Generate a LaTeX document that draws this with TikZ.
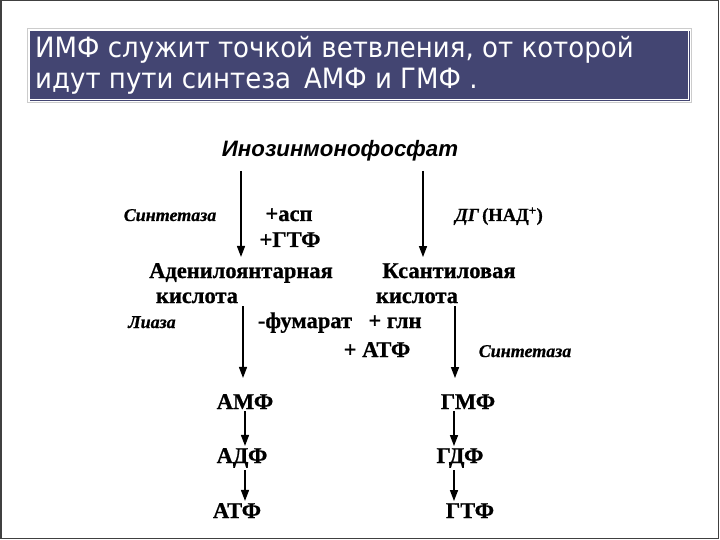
\documentclass[tikz,border=0pt]{standalone}
\usepackage{fontspec}
\setmainfont{Liberation Serif}[BoldFeatures={FakeBold=0.8},BoldItalicFeatures={FakeBold=0.8}]
\newfontfamily\titlefont{DejaVu Sans}[FakeStretch=0.93]
\newfontfamily\arialfont{Liberation Sans}
\usetikzlibrary{arrows.meta}
\definecolor{titleblue}{HTML}{434572}
\definecolor{framegray}{HTML}{404040}
\begin{document}
\begin{tikzpicture}[x=1pt,y=-1pt,
  lbl/.style={inner sep=0pt, anchor=base, font=\fontsize{22.5}{24}\selectfont\bfseries},
  enz/.style={inner sep=0pt, anchor=base, font=\fontsize{18}{20}\selectfont\bfseries\itshape},
  ttl/.style={inner sep=0pt, anchor=base west, text=white, font=\titlefont\fontsize{28}{30}\selectfont},
  arr/.style={line width=1.4pt, -{Triangle[length=11pt,width=8pt]}},
 ]
\useasboundingbox (0,0) rectangle (720,540);
\fill[white] (0,0) rectangle (720,540);
\draw[line width=1.5pt, framegray] (0.75,0.75) rectangle (718.5,538.5);
% title box
\draw[gray!40, line width=0.6pt] (27.5,28.5) rectangle (691.5,102.5);
\fill[titleblue] (30,31) rectangle (688,99.5);
\draw[titleblue, line width=1pt] (689.5,31) -- (689.5,101) -- (30,101);
\node[ttl] (t1) at (35,58) {ИМФ служит точкой ветвления, от которой};
\node[ttl] (t2) at (35,89) {идут пути синтеза\, АМФ и ГМФ .};
% columns
\coordinate (cA1) at (241,0);
\coordinate (cA2) at (243,0);
\coordinate (cA3) at (245,0);
\coordinate (cG1) at (423,0);
\coordinate (cG2) at (455,0);
\coordinate (cG3) at (454,0);
% nodes
\node[inner sep=0pt, anchor=base, font=\arialfont\fontsize{22.3}{24}\selectfont\bfseries\itshape] (imp) at (340,157) {Инозинмонофосфат};
\node[enz] (syn1) at (170,221) {Синтетаза};
\node[lbl] (asp) at (289,221) {+асп};
\node[lbl] (gtf) at (290,247) {+ГТФ};
\node[lbl, font=\fontsize{18.5}{20}\selectfont\bfseries] (dg) at (499,221) {\textit{ДГ}\,(НАД\textsuperscript{+})};
\node[lbl] (ad) at (241,278) {Аденилоянтарная};
\node[lbl] (k1) at (197,303) {кислота};
\node[lbl] (ks) at (449,278) {Ксантиловая};
\node[lbl] (k2) at (417,303) {кислота};
\node[enz] (lia) at (152,328) {Лиаза};
\node[lbl] (fum) at (305,328) {-фумарат};
\node[lbl] (gln) at (395,328) {+ глн};
\node[lbl] (atpp) at (377,357) {+ АТФ};
\node[enz] (syn2) at (525,357) {Синтетаза};
\node[lbl] (amp) at (245,409) {АМФ};
\node[lbl] (gmp) at (468,409) {ГМФ};
\node[lbl] (adp) at (242,463) {АДФ};
\node[lbl] (gdp) at (460,463) {ГДФ};
\node[lbl] (atp) at (237,518) {АТФ};
\node[lbl] (gtp) at (470,518) {ГТФ};
% arrows
\draw[arr, shorten <=9pt, shorten >=6pt] (imp.south -| cA1) -- (ad.north -| cA1);
\draw[arr, shorten <=9pt, shorten >=6pt] (imp.south -| cG1) -- (ks.north -| cG1);
\draw[arr, shorten <=3pt, shorten >=16pt] (k1.south -| cA2) -- (amp.north -| cA2);
\draw[arr, shorten <=3pt, shorten >=16pt] (k2.south -| cG2) -- (gmp.north -| cG2);
\draw[arr, shorten <=2pt, shorten >=2pt] (amp.south -| cA3) -- (adp.north -| cA3);
\draw[arr, shorten <=2pt, shorten >=2pt] (adp.south -| cA3) -- (atp.north -| cA3);
\draw[arr, shorten <=2pt, shorten >=2pt] (gmp.south -| cG3) -- (gdp.north -| cG3);
\draw[arr, shorten <=2pt, shorten >=2pt] (gdp.south -| cG3) -- (gtp.north -| cG3);
\end{tikzpicture}
\end{document}
